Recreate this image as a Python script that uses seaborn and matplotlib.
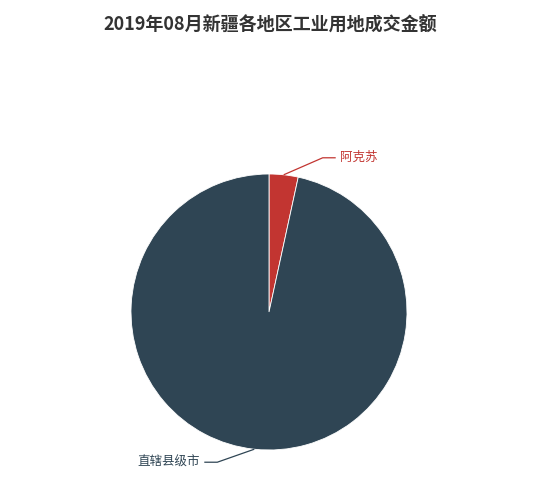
import numpy as np
import matplotlib
matplotlib.use("Agg")
import matplotlib.pyplot as plt
import seaborn as sns

# data (成交金额, 万元)
regions = ["阿克苏", "直辖县级市"]
amounts = [412.5, 11720.0]
colors = ["#c23531", "#2f4554"]
title = "2019年08月新疆各地区工业用地成交金额"

sns.set_theme(style="white")
plt.rcParams['font.family'] = ['Noto Sans CJK SC', 'DejaVu Sans']

W, H = 550, 490
fig = plt.figure(figsize=(W / 100, H / 100), dpi=100)
ax = fig.add_axes([0, 0, 1, 1])

cx, cy, r = 269, H - 312, 138
wedges, _ = ax.pie(amounts, colors=colors, startangle=90, counterclock=False,
                   center=(cx, cy), radius=r, frame=True,
                   wedgeprops=dict(edgecolor="white", linewidth=0.6))
ax.set_xlim(0, W)
ax.set_ylim(0, H)
ax.set_aspect("equal")
ax.axis("off")

# leader lines + labels
elbows = [(39, 17), (-37, -13)]
for w, name, col, (ex, ey) in zip(wedges, regions, colors, elbows):
    mid = np.deg2rad((w.theta1 + w.theta2) / 2)
    x0 = cx + r * np.cos(mid)
    y0 = cy + r * np.sin(mid)
    x1, y1 = x0 + ex, y0 + ey
    side = 1 if ex > 0 else -1
    x2 = x1 + side * 13
    ax.plot([x0, x1, x2], [y0, y1, y1], color=col, lw=0.9, solid_capstyle="butt")
    ax.text(x2 + side * 4, y1, name, color=col, fontsize=9,
            ha="left" if side > 0 else "right", va="center")

fig.text(270 / W, 1 - 25 / H, title, ha="center", va="center",
         fontsize=13, fontweight="bold", color="#333333")

fig.savefig("out.png", dpi=100)
